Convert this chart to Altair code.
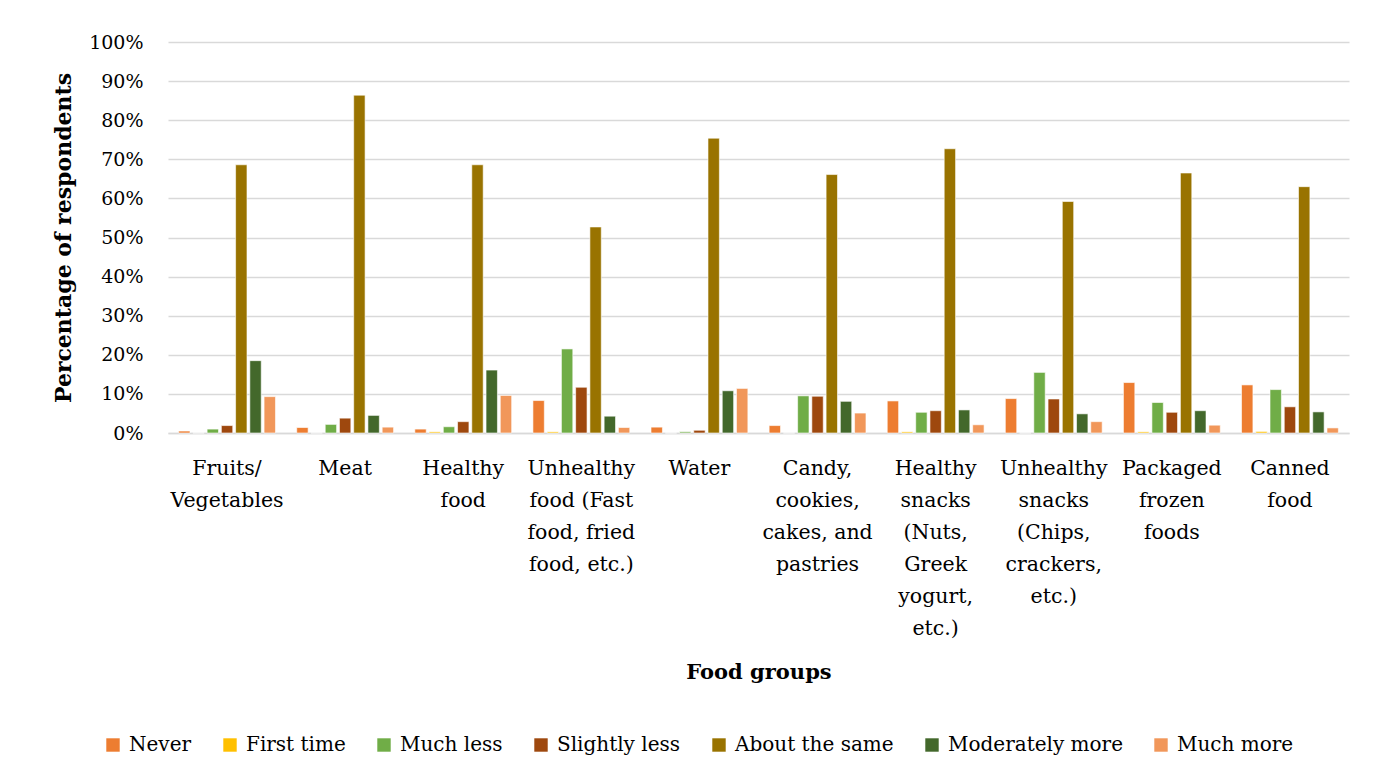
import altair as alt
import pandas as pd

label_lines = [
    ["Fruits/", "Vegetables"],
    ["Meat"],
    ["Healthy", "food"],
    ["Unhealthy", "food (Fast", "food, fried", "food, etc.)"],
    ["Water"],
    ["Candy,", "cookies,", "cakes, and", "pastries"],
    ["Healthy", "snacks", "(Nuts,", "Greek", "yogurt,", "etc.)"],
    ["Unhealthy", "snacks", "(Chips,", "crackers,", "etc.)"],
    ["Packaged", "frozen", "foods"],
    ["Canned", "food"],
]
categories = ["\n".join(l) for l in label_lines]

responses = ["Never", "First time", "Much less", "Slightly less",
             "About the same", "Moderately more", "Much more"]
colors = ["#ED7D31", "#FFC000", "#70AD47", "#9E480E", "#997300", "#43682B", "#F1975A"]

never = [0.5, 1.4, 1.0, 8.3, 1.5, 1.9, 8.2, 8.8, 12.9, 12.3]
first_time = [0.0, 0.0, 0.3, 0.3, 0.0, 0.0, 0.3, 0.0, 0.3, 0.4]
much_less = [1.0, 2.2, 1.6, 21.5, 0.3, 9.5, 5.3, 15.5, 7.8, 11.1]
slightly_less = [1.9, 3.8, 2.9, 11.7, 0.7, 9.4, 5.7, 8.7, 5.3, 6.7]
about_same = [68.6, 86.4, 68.6, 52.7, 75.4, 66.1, 72.7, 59.2, 66.5, 63.0]
moderately_more = [18.5, 4.5, 16.1, 4.3, 10.8, 8.1, 5.9, 4.9, 5.7, 5.4]
much_more = [9.3, 1.5, 9.6, 1.4, 11.4, 5.1, 2.1, 2.9, 2.0, 1.3]

series = [never, first_time, much_less, slightly_less, about_same, moderately_more, much_more]

rows = []
for r, vals in zip(responses, series):
    for c, v in zip(categories, vals):
        rows.append({"food": c, "response": r, "pct": v})
df = pd.DataFrame(rows)

FONT = "DejaVu Serif"

chart = alt.Chart(df).mark_bar(stroke="white", strokeWidth=0.6).encode(
    x=alt.X("food:N", sort=categories,
            scale=alt.Scale(paddingInner=0.18, paddingOuter=0.09),
            axis=alt.Axis(title="Food groups", labelAngle=0, ticks=False,
                          labelExpr="split(datum.label, '\\n')",
                          labelLineHeight=32, labelPadding=25,
                          labelFontSize=20.5, labelFont=FONT, labelColor="#000000",
                          domainColor="#d9d9d9", domainWidth=1.5,
                          titleFont=FONT, titleFontSize=21, titleFontWeight="bold",
                          titleColor="#000000", titleY=239, titleBaseline="middle")),
    xOffset=alt.XOffset("response:N", sort=responses,
                        scale=alt.Scale(paddingInner=0.2, paddingOuter=0)),
    y=alt.Y("pct:Q", scale=alt.Scale(domain=[0, 100]),
            axis=alt.Axis(title="Percentage of respondents",
                          values=[0, 10, 20, 30, 40, 50, 60, 70, 80, 90, 100],
                          labelExpr="datum.value + '%'", ticks=False, domain=False,
                          labelPadding=25, labelFontSize=19, labelFont=FONT,
                          labelColor="#000000",
                          gridColor="#d9d9d9", gridWidth=1.5,
                          titleFont=FONT, titleFontSize=22, titleFontWeight="bold",
                          titleColor="#000000", titleX=-105, titleY=195.5,
                          titleBaseline="middle")),
    color=alt.Color("response:N", sort=responses,
                    scale=alt.Scale(domain=responses, range=colors),
                    legend=alt.Legend(title=None, orient="none", direction="horizontal",
                                      legendX=-65, legendY=693,
                                      symbolType="square", symbolSize=180,
                                      symbolStrokeWidth=0, labelFontSize=20,
                                      labelFont=FONT, labelColor="#000000",
                                      labelLimit=400,
                                      columnPadding=28, labelOffset=6)),
).properties(
    width=1181, height=391,
    autosize=alt.AutoSizeParams(type="none"),
    padding={"left": 160, "top": 34, "right": 19, "bottom": 330},
).configure_view(stroke=None)

chart.save("out.html", embed_options={"renderer": "svg", "actions": False})
